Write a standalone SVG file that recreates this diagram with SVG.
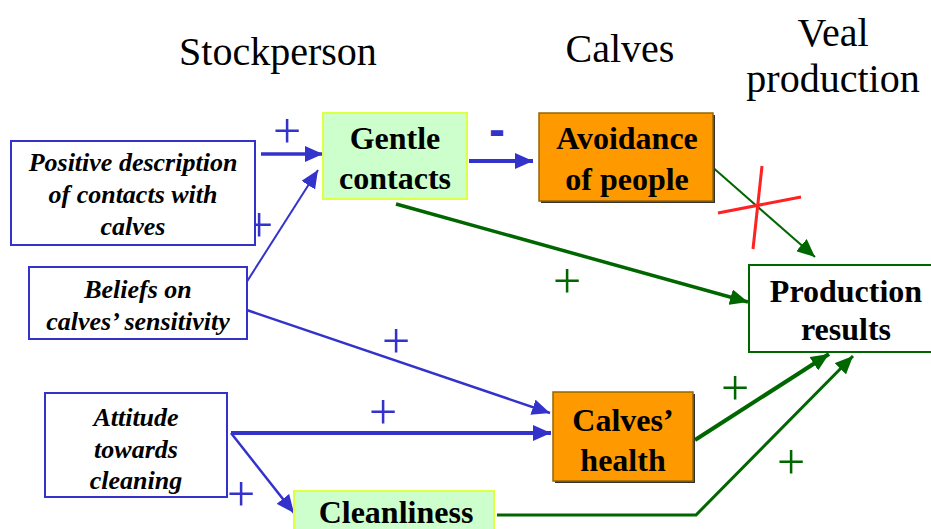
<svg xmlns="http://www.w3.org/2000/svg" width="931" height="529" viewBox="0 0 931 529">
<style>
.hd{font-family:"Liberation Serif","Times New Roman",serif;font-size:40px;fill:#000;text-anchor:middle}
.it{font-family:"Liberation Serif","Times New Roman",serif;font-size:26px;font-weight:bold;font-style:italic;fill:#000;text-anchor:middle}
.bd{font-family:"Liberation Serif","Times New Roman",serif;font-size:32px;font-weight:bold;fill:#000;text-anchor:middle}
.bx{fill:#fff;stroke:#3333cc;stroke-width:2}
.gr{fill:#ccffcc;stroke:#ddff44;stroke-width:2}
.or{fill:#ff9900;stroke:#996600;stroke-width:1.5}
.pb{font-family:"Liberation Serif","Times New Roman",serif;font-size:50px;fill:#3333cc;text-anchor:middle}
.pg{font-family:"Liberation Serif","Times New Roman",serif;font-size:50px;fill:#006600;text-anchor:middle}
.lb{stroke:#3333cc;fill:none}
.lg{stroke:#006600;fill:none}
</style>
<defs>
<marker id="ab" markerUnits="userSpaceOnUse" markerWidth="18" markerHeight="16" refX="18" refY="8" orient="auto"><path d="M0,0 L18,8 L0,16 z" fill="#3333cc"/></marker>
<marker id="ag" markerUnits="userSpaceOnUse" markerWidth="18" markerHeight="16" refX="18" refY="8" orient="auto"><path d="M0,0 L18,8 L0,16 z" fill="#006600"/></marker>
</defs>
<rect width="931" height="529" fill="#fff"/>
<g id="headers">
<text class="hd" x="278" y="65">Stockperson</text>
<text class="hd" x="620" y="62">Calves</text>
<text class="hd" x="833" y="46">Veal</text>
<text class="hd" x="833" y="92">production</text>
</g>
<g id="connectors">
<line class="lb" x1="261" y1="154" x2="323" y2="154" stroke-width="3.5" marker-end="url(#ab)"/>
<line class="lb" x1="232" y1="305" x2="318" y2="170" stroke-width="2" marker-end="url(#ab)"/>
<line class="lb" x1="469" y1="161" x2="533" y2="161" stroke-width="4" marker-end="url(#ab)"/>
<line class="lb" x1="232" y1="305" x2="550" y2="413" stroke-width="2.5" marker-end="url(#ab)"/>
<line class="lb" x1="231" y1="433" x2="551" y2="433" stroke-width="4" marker-end="url(#ab)"/>
<line class="lb" x1="231" y1="433" x2="294" y2="513" stroke-width="2.5" marker-end="url(#ab)"/>
<line class="lg" x1="396" y1="204" x2="748" y2="302" stroke-width="3.5" marker-end="url(#ag)"/>
<line class="lg" x1="710" y1="165" x2="815" y2="257" stroke-width="2" marker-end="url(#ag)"/>
<line class="lg" x1="695" y1="440" x2="829" y2="354" stroke-width="4" marker-end="url(#ag)"/>
<polyline class="lg" points="497,515 696,515 853,356" stroke-width="3" marker-end="url(#ag)"/>
<line x1="718" y1="213" x2="801" y2="197" stroke="#ff2222" stroke-width="3"/>
<line x1="762" y1="166" x2="753" y2="249" stroke="#ff2222" stroke-width="3"/>
<text class="pb" x="287" y="148">+</text>
<text class="pb" x="259" y="242">+</text>
<text x="497" y="146" font-family="Liberation Sans,sans-serif" font-weight="bold" font-size="48" fill="#3333cc" text-anchor="middle">-</text>
<text class="pb" x="396" y="358">+</text>
<text class="pb" x="383" y="429">+</text>
<text class="pb" x="241" y="511">+</text>
<text class="pg" x="567" y="298">+</text>
<text class="pg" x="735" y="405">+</text>
<text class="pg" x="791" y="479">+</text>
</g>
<g id="positive-description">
<rect class="bx" x="11" y="141" width="244" height="104"/>
<text class="it" x="133" y="171">Positive description</text>
<text class="it" x="133" y="203">of contacts with</text>
<text class="it" x="133" y="235">calves</text>
</g>
<g id="beliefs">
<rect class="bx" x="29" y="267" width="218" height="72"/>
<text class="it" x="138" y="298">Beliefs on</text>
<text class="it" x="138" y="330">calves’ sensitivity</text>
</g>
<g id="attitude">
<rect class="bx" x="45" y="393" width="182" height="104"/>
<text class="it" x="136" y="426">Attitude</text>
<text class="it" x="136" y="458">towards</text>
<text class="it" x="136" y="489">cleaning</text>
</g>
<g id="gentle-contacts">
<rect class="gr" x="323" y="113" width="144" height="86"/>
<text class="bd" x="395" y="149">Gentle</text>
<text class="bd" x="395" y="189">contacts</text>
</g>
<g id="avoidance">
<rect x="541" y="115" width="174" height="88" fill="#333"/>
<rect class="or" x="539" y="113" width="174" height="88"/>
<text class="bd" x="627" y="149">Avoidance</text>
<text class="bd" x="627" y="190">of people</text>
</g>
<g id="production-results">
<rect x="749" y="265" width="190" height="87" fill="#fff" stroke="#006600" stroke-width="2"/>
<text class="bd" x="846" y="302">Production</text>
<text class="bd" x="846" y="340">results</text>
</g>
<g id="calves-health">
<rect x="555" y="394" width="140" height="89" fill="#333"/>
<rect class="or" x="553" y="392" width="140" height="89"/>
<text class="bd" x="623" y="431">Calves’</text>
<text class="bd" x="623" y="471">health</text>
</g>
<g id="cleanliness">
<rect class="gr" x="294" y="491" width="200" height="50"/>
<text class="bd" x="396" y="523" font-size="29">Cleanliness</text>
</g>
</svg>
